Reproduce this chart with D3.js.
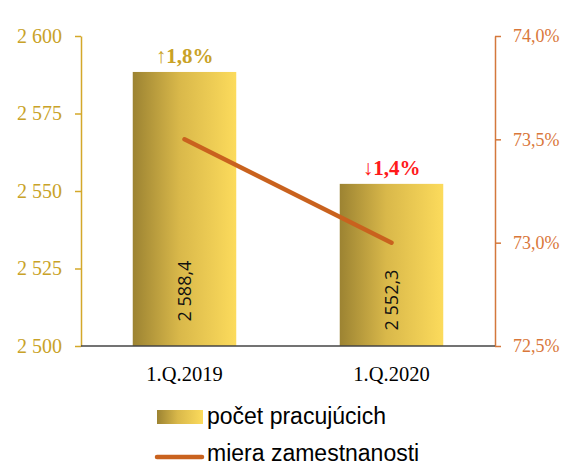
<!DOCTYPE html>
<html>
<head>
<meta charset="utf-8">
<script src="https://d3js.org/d3.v7.min.js"></script>
<style>
  body { margin: 0; background: #fff; }
  svg { display: block; }
</style>
</head>
<body>
<svg></svg>
<script>
const categories = ['1.Q.2019', '1.Q.2020'];
const workers = [2588.4, 2552.3];
const employmentRate = [73.5, 73.0];
const changeLabels = ['\u21911,8%', '\u21931,4%'];
const changeColors = ['#c9a227', '#ff1a1a'];
const leftTicks = [2500, 2525, 2550, 2575, 2600];
const rightTicks = [72.5, 73.0, 73.5, 74.0];

const width = 564, height = 466;
const plotLeft = 81, plotRight = 495, plotTop = 36, plotBottom = 346;
const serif = '"Liberation Serif", "Times New Roman", serif';

const svg = d3.select('svg').attr('width', width).attr('height', height);

const defs = svg.append('defs');
const grad = defs.append('linearGradient').attr('id', 'barGrad')
  .attr('x1', '0%').attr('x2', '100%').attr('y1', '0%').attr('y2', '0%');
grad.append('stop').attr('offset', '0%').attr('stop-color', '#9c8332');
grad.append('stop').attr('offset', '45%').attr('stop-color', '#d9b84a');
grad.append('stop').attr('offset', '100%').attr('stop-color', '#fcdb5c');

const x = d3.scaleBand().domain(categories).range([plotLeft, plotRight]).paddingInner(0.5).paddingOuter(0.25);
const y = d3.scaleLinear().domain([2500, 2600]).range([plotBottom, plotTop]);
const y2 = d3.scaleLinear().domain([72.5, 74.0]).range([plotBottom, plotTop]);

const fmt = d3.formatLocale({decimal: ',', thousands: '\u00a0', grouping: [3], currency: ['', '']});
const fmtInt = fmt.format(',d');
const fmtVal = fmt.format(',.1f');
const fmtPct = v => fmt.format('.1f')(v) + '%';

// bars
svg.selectAll('rect.bar').data(workers).join('rect')
  .attr('class', 'bar')
  .attr('x', (d, i) => x(categories[i]))
  .attr('y', d => y(d))
  .attr('width', x.bandwidth())
  .attr('height', d => plotBottom - y(d))
  .attr('fill', 'url(#barGrad)');

// left axis
const gl = svg.append('g').attr('transform', `translate(${plotLeft},0)`)
  .call(d3.axisLeft(y).tickValues(leftTicks).tickFormat(fmtInt).tickSize(6).tickSizeOuter(0).tickPadding(13));
gl.attr('font-family', serif).attr('font-size', 20);
gl.select('.domain').attr('stroke', '#d4a82a').attr('stroke-width', 1.5);
gl.selectAll('.tick line').attr('stroke', '#d4a82a').attr('stroke-width', 1.5);
gl.selectAll('.tick text').attr('fill', '#c9a227');

// right axis
const gr = svg.append('g').attr('transform', `translate(${plotRight},0)`)
  .call(d3.axisRight(y2).tickValues(rightTicks).tickFormat(fmtPct).tickSize(6).tickSizeOuter(0).tickPadding(12));
gr.attr('font-family', serif).attr('font-size', 18);
gr.select('.domain').attr('stroke', '#d4783c').attr('stroke-width', 1.5);
gr.selectAll('.tick line').attr('stroke', '#d4783c').attr('stroke-width', 1.5);
gr.selectAll('.tick text').attr('fill', '#d9773a');

// baseline
svg.append('line').attr('x1', plotLeft).attr('x2', plotRight).attr('y1', plotBottom).attr('y2', plotBottom)
  .attr('stroke', '#444').attr('stroke-width', 1.5);

// category labels
svg.selectAll('text.cat').data(categories).join('text')
  .attr('class', 'cat')
  .attr('x', d => x(d) + x.bandwidth() / 2)
  .attr('y', plotBottom + 35)
  .attr('text-anchor', 'middle')
  .style('font-family', serif)
  .style('font-size', '20.5px')
  .attr('fill', '#000')
  .text(d => d);

// values in bars
svg.selectAll('text.val').data(workers).join('text')
  .attr('class', 'val')
  .attr('transform', (d, i) => `translate(${x(categories[i]) + x.bandwidth() / 2 + 6},${plotBottom - 55 + i * 9}) rotate(-90)`)
  .attr('text-anchor', 'middle')
  .style('font-family', '"Open Sans", "DejaVu Sans", sans-serif')
  .style('font-size', '18px')
  .attr('fill', '#111')
  .text(d => fmtVal(d));

// change labels
svg.selectAll('text.chg').data(workers).join('text')
  .attr('class', 'chg')
  .attr('x', (d, i) => x(categories[i]) + x.bandwidth() / 2)
  .attr('y', d => y(d) - 9)
  .attr('text-anchor', 'middle')
  .style('font-family', serif)
  .style('font-size', '21px')
  .style('font-weight', 'bold')
  .attr('fill', (d, i) => changeColors[i])
  .text((d, i) => changeLabels[i]);

// employment rate line
const line = d3.line()
  .x((d, i) => x(categories[i]) + x.bandwidth() / 2)
  .y(d => y2(d));
svg.append('path').datum(employmentRate)
  .attr('d', line)
  .attr('fill', 'none')
  .attr('stroke', '#c9621e')
  .attr('stroke-width', 4.5)
  .attr('stroke-linecap', 'round');

// legend
const lg = svg.append('g')
  .style('font-family', '"Liberation Sans", Arial, sans-serif').style('font-size', '23px');
lg.append('rect').attr('x', 157).attr('y', 410).attr('width', 46).attr('height', 14).attr('fill', 'url(#barGrad)');
lg.append('text').attr('x', 207).attr('y', 424).attr('fill', '#000').text('počet pracujúcich');
lg.append('line').attr('x1', 157).attr('x2', 202).attr('y1', 457).attr('y2', 457)
  .attr('stroke', '#c9621e').attr('stroke-width', 4.5).attr('stroke-linecap', 'round');
lg.append('text').attr('x', 207).attr('y', 461).attr('fill', '#000').text('miera zamestnanosti');
</script>
</body>
</html>
